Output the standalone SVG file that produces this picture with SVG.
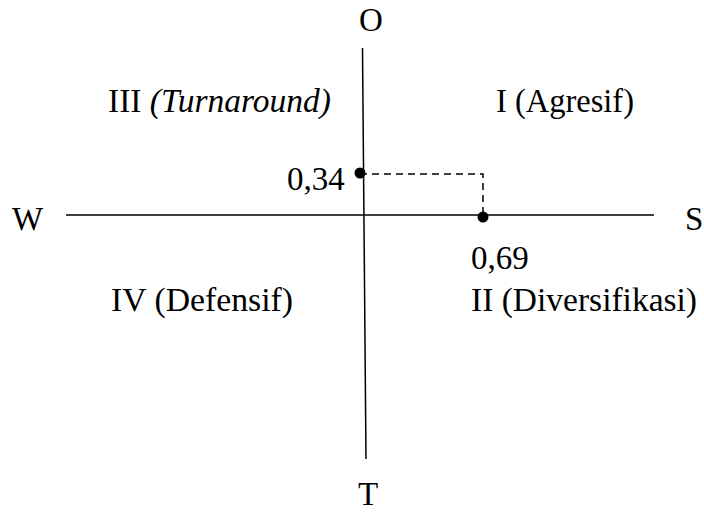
<svg xmlns="http://www.w3.org/2000/svg" width="704" height="512" viewBox="0 0 704 512">
<style>
text{font-family:"Liberation Serif","Times New Roman",serif;font-size:33px;fill:#000}
.ax{stroke:#000;stroke-width:1.5;fill:none}
.dash{stroke:#000;stroke-width:1.5;fill:none;stroke-dasharray:7 5}
.dot{fill:#000}
</style>
<rect width="704" height="512" fill="#fff"/>
<g id="connectors">
<line class="ax" x1="362.5" y1="48" x2="366" y2="459"/>
<line class="ax" x1="66" y1="215" x2="654" y2="215"/>
<polyline class="dash" points="360,174 483,174 483,217"/>
</g>
<g id="axis-labels">
<text x="371" y="31" text-anchor="middle">O</text>
<text x="368" y="505" text-anchor="middle">T</text>
<text x="12" y="230">W</text>
<text x="685" y="230">S</text>
</g>
<g id="quadrant-I"><text x="496" y="112" textLength="138" lengthAdjust="spacingAndGlyphs">I (Agresif)</text></g>
<g id="quadrant-III"><text x="108" y="112" textLength="223" lengthAdjust="spacingAndGlyphs">III <tspan font-style="italic">(Turnaround)</tspan></text></g>
<g id="quadrant-IV"><text x="111" y="311" textLength="182" lengthAdjust="spacingAndGlyphs">IV (Defensif)</text></g>
<g id="quadrant-II"><text x="471" y="311" textLength="226" lengthAdjust="spacingAndGlyphs">II (Diversifikasi)</text></g>
<g id="point-034">
<circle class="dot" cx="360" cy="173" r="5.5"/>
<text x="287" y="190">0,34</text>
</g>
<g id="point-069">
<circle class="dot" cx="483" cy="217" r="5.5"/>
<text x="471" y="269">0,69</text>
</g>
</svg>
